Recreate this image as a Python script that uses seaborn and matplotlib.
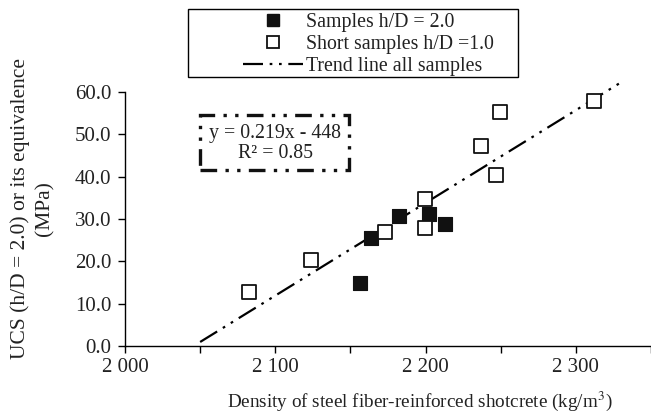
import matplotlib
matplotlib.use("Agg")
import matplotlib.pyplot as plt
import seaborn as sns
import numpy as np
import pandas as pd
from matplotlib.ticker import MultipleLocator, FuncFormatter
from matplotlib.lines import Line2D
from matplotlib.patches import Rectangle

# Data
density_long = [2156.7, 2164.0, 2182.6, 2202.5, 2213.1]
ucs_long = [15.0, 25.5, 30.8, 31.1, 28.8]
density_short = [2082.5, 2123.5, 2172.9, 2199.4, 2199.9, 2237.1, 2246.8, 2249.7, 2312.1]
ucs_short = [12.8, 20.2, 26.9, 34.7, 27.9, 47.3, 40.3, 55.2, 57.8]
trend_slope = 0.219
trend_intercept = -448.0
trend_x_range = [2050, 2330]
label_long = "Samples h/D = 2.0"
label_short = "Short samples h/D =1.0"
label_trend = "Trend line all samples"
eq_text = "y = 0.219x - 448\nR\u00b2 = 0.85"

sns.set_theme(style="white")
plt.rcParams['font.family'] = ['Liberation Serif', 'DejaVu Serif']
plt.rcParams['mathtext.fontset'] = 'stix'

df = pd.DataFrame({
    "density": density_long + density_short,
    "ucs": ucs_long + ucs_short,
    "group": [label_long] * len(density_long) + [label_short] * len(density_short),
})

W, H = 651, 420
fig = plt.figure(figsize=(W / 100, H / 100), dpi=100)
ax = fig.add_axes([125 / W, 1 - 346 / H, 1 - 125 / W, (346 - 92) / H])

dash = (0, (9, 3, 1.2, 3, 1.2, 3))
tx = np.array(trend_x_range, dtype=float)
ty = trend_slope * tx + trend_intercept
ax.plot(tx, ty, color="black", lw=1.6, linestyle=dash, clip_on=False, zorder=1)

sub_l = df[df.group == label_long]
sub_s = df[df.group == label_short]
sns.scatterplot(data=sub_l, x="density", y="ucs", ax=ax, marker="s", s=90,
                color="#111111", edgecolor="#111111", linewidth=0.8, zorder=3, legend=False)
sns.scatterplot(data=sub_s, x="density", y="ucs", ax=ax, marker="s", s=90,
                facecolor="white", edgecolor="#111111", linewidth=1.3, zorder=3, legend=False)

ax.set_xlim(2000, 2350)
ax.set_ylim(0, 60)
for sp in ["top", "right"]:
    ax.spines[sp].set_visible(False)
for sp in ["left", "bottom"]:
    ax.spines[sp].set_color("black")
    ax.spines[sp].set_linewidth(1.0)

ax.xaxis.set_major_locator(MultipleLocator(100))
ax.xaxis.set_minor_locator(MultipleLocator(50))
ax.yaxis.set_major_locator(MultipleLocator(10))
ax.xaxis.set_major_formatter(FuncFormatter(lambda v, p: f"{int(v):,}".replace(",", " ")))
ax.yaxis.set_major_formatter(FuncFormatter(lambda v, p: f"{v:.1f}"))
ax.tick_params(axis="both", which="both", direction="out", color="black",
               labelsize=15, labelcolor="#222222")
ax.tick_params(axis="x", which="major", length=5, width=1, pad=4)
ax.tick_params(axis="x", which="minor", length=5, width=1)
ax.tick_params(axis="y", which="major", length=5, width=1, pad=5)
ax.xaxis.set_ticks_position("bottom")
ax.yaxis.set_ticks_position("left")

ax.set_xlabel("Density of steel fiber-reinforced shotcrete (kg/m$^3$)", fontsize=13.8,
              color="#222222")
ax.xaxis.set_label_coords(0.561, -0.17)
ax.set_ylabel("UCS (h/D = 2.0) or its equivalence\n(MPa)", fontsize=15.5,
              color="#222222", linespacing=1.3)
ax.yaxis.set_label_coords(-0.135, 0.54)
ax.grid(False)

# Equation box
ax.text(2100, 47.9, eq_text, ha="center", va="center", fontsize=14.3, color="#222222",
        linespacing=1.05, zorder=4)
rect = Rectangle((2050, 41.6), 2149 - 2050, 54.6 - 41.6, fill=False, edgecolor="#111111",
                 linewidth=2.4, linestyle=(0, (5, 2.5, 1, 2.5, 1, 2.5)), zorder=4, clip_on=False)
ax.add_patch(rect)

# Legend
handles = [
    Line2D([], [], marker="s", color="#111111", linestyle="none", markersize=9),
    Line2D([], [], marker="s", markerfacecolor="white", markeredgecolor="#111111",
           markeredgewidth=1.3, linestyle="none", markersize=9),
    Line2D([], [], color="black", lw=1.6, linestyle=dash),
]
leg = fig.legend(handles, [label_long, label_short, label_trend], loc="upper left",
                 bbox_to_anchor=(243 / W, 1 - 13 / H), frameon=False,
                 fontsize=14.3, handlelength=3.0, handletextpad=0.15, borderpad=0,
                 labelspacing=0.16, borderaxespad=0)
for t in leg.get_texts():
    t.set_color("#222222")
frame = Rectangle((188 / W, 1 - 77 / H), (518 - 188) / W, (77 - 9) / H, transform=fig.transFigure,
                  fill=False, edgecolor="black", linewidth=1.0)
fig.add_artist(frame)

fig.savefig("out.png", dpi=100)
